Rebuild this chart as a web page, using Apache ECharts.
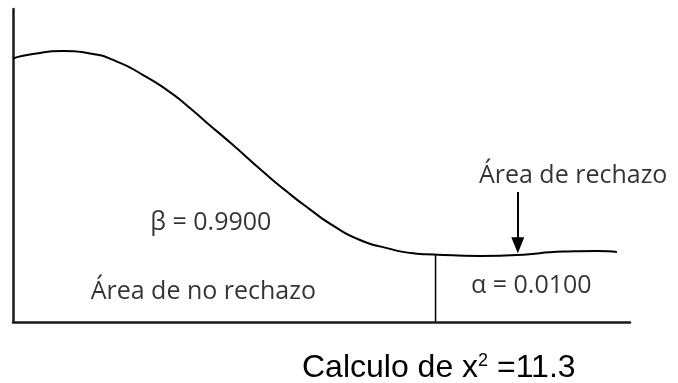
<!DOCTYPE html>
<html>
<head>
<meta charset="utf-8">
<script src="https://cdn.jsdelivr.net/npm/echarts@6/dist/echarts.min.js"></script>
<style>
  html, body { margin: 0; padding: 0; background: #fff; }
  #chart { width: 678px; height: 383px; }
</style>
</head>
<body>
<div id="chart"></div>
<script>
// curve (x in chi-square units, y in relative height)
const curveX = [0, 0.53, 1.34, 2.06, 2.78, 3.48, 4.12, 4.65, 5.19, 5.8, 6.69, 7.33, 7.94, 8.56, 9.28, 10.0, 10.7, 11.24, 12.49, 13.48, 14.71, 15.62, 16.15]
const curveY = [84.2, 85.6, 86.6, 85.8, 83.2, 78.9, 74.1, 69.2, 63.6, 57.4, 48.0, 41.6, 36.0, 30.8, 26.2, 23.6, 22.0, 21.6, 21.1, 21.4, 22.5, 22.7, 22.4]

// critical value and the arrow pointing at the rejection tail
const criticalX = 11.3
const criticalTop = 21.6
const arrowX = 13.5
const arrowFrom = 41.5
const arrowTo = 24.5

// annotations
const noteText = ['β = 0.9900', 'Área de no rechazo', 'α = 0.0100', 'Área de rechazo']
const noteX = [5.29, 5.09, 13.86, 14.98]
const noteY = [31.8, 9.7, 11.7, 46.8]
const caption = '{m|Calculo de x}{sup|2}{m| =11.3}'

const chart = echarts.init(document.getElementById('chart'))

chart.setOption({
  animation: false,
  backgroundColor: '#fff',
  graphic: [
    {
      type: 'text',
      left: 302,
      top: 352,
      silent: true,
      style: {
        text: caption,
        fill: '#000',
        rich: {
          m: {
            fontFamily: 'Liberation Sans',
            fontSize: 32,
            lineHeight: 32,
            fill: '#000',
          },
          sup: {
            fontFamily: 'Liberation Sans',
            fontSize: 18,
            lineHeight: 12,
            fill: '#000',
            verticalAlign: 'top',
          },
        },
      },
    },
  ],
  grid: {
    left: 13,
    right: 48,
    top: 9,
    bottom: 61,
  },
  xAxis: {
    type: 'value',
    min: 0,
    max: 16.5,
    axisLine: { show: true, lineStyle: { color: '#1a1a1a', width: 2.5 } },
    axisTick: { show: false },
    axisLabel: { show: false },
    splitLine: { show: false },
  },
  yAxis: {
    type: 'value',
    min: 0,
    max: 100,
    axisLine: { show: true, lineStyle: { color: '#1a1a1a', width: 2.5 } },
    axisTick: { show: false },
    axisLabel: { show: false },
    splitLine: { show: false },
  },
  series: [
    {
      name: 'curva',
      type: 'line',
      smooth: 0.6,
      symbol: 'none',
      lineStyle: { color: '#000', width: 2 },
      data: curveX.map((x, i) => [x, curveY[i]]),
      silent: true,
    },
    {
      name: 'critico',
      type: 'line',
      symbol: 'none',
      lineStyle: { color: '#000', width: 1.5 },
      data: [[criticalX, 0], [criticalX, criticalTop]],
      silent: true,
      markLine: {
        silent: true,
        symbol: ['none', 'triangle'],
        symbolSize: [13, 16],
        label: { show: false },
        lineStyle: { type: 'solid', color: '#000', width: 2 },
        data: [[{ coord: [arrowX, arrowFrom] }, { coord: [arrowX, arrowTo] }]],
      },
    },
    {
      name: 'notas',
      type: 'scatter',
      symbolSize: 0,
      silent: true,
      label: {
        show: true,
        position: 'inside',
        formatter: '{b}',
        fontFamily: 'Open Sans',
        fontSize: 25,
        color: '#000',
      },
      data: noteText.map((t, i) => ({ name: t, value: [noteX[i], noteY[i]] })),
    },
  ],
})
</script>
</body>
</html>
